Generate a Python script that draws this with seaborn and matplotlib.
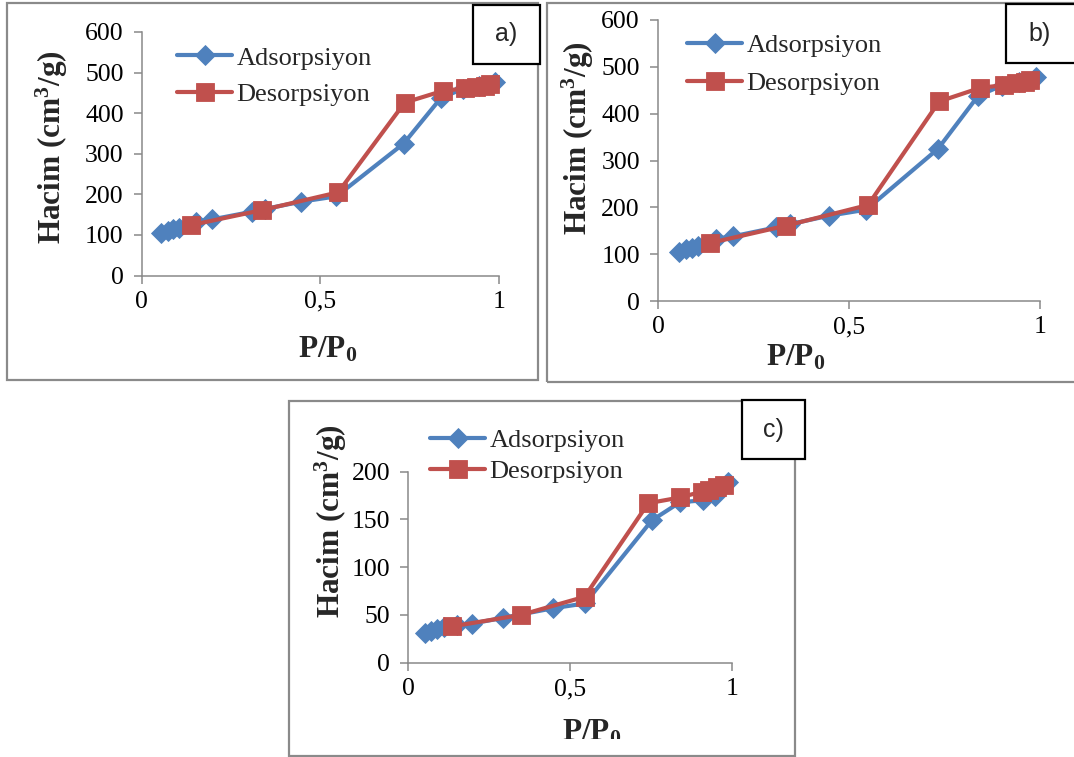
import matplotlib
matplotlib.use("Agg")
import matplotlib.pyplot as plt
import seaborn as sns
from matplotlib.patches import Rectangle
from matplotlib.transforms import Bbox, TransformedBbox

# ---- isotherm data (P/P0, adsorbed volume cm3/g) ----
# samples a) and b)
ads_ab_x = [0.055, 0.073, 0.089, 0.104, 0.152, 0.196, 0.308, 0.345, 0.447, 0.545, 0.733, 0.838, 0.900, 0.945, 0.990]
ads_ab_y = [105, 110, 114, 118, 133, 138, 157, 164, 182, 195, 325, 438, 460, 468, 478]
des_ab_x = [0.975, 0.960, 0.937, 0.905, 0.843, 0.736, 0.550, 0.336, 0.137]
des_ab_y = [471, 468, 465, 461, 455, 426, 205, 161, 124]

# sample c)
ads_c_x = [0.052, 0.070, 0.090, 0.110, 0.150, 0.197, 0.294, 0.447, 0.546, 0.753, 0.840, 0.910, 0.948, 0.990]
ads_c_y = [31, 33, 35, 37, 39, 41, 47, 57, 62, 149, 168, 170, 175, 189]
des_c_x = [0.975, 0.955, 0.930, 0.907, 0.840, 0.742, 0.545, 0.348, 0.135]
des_c_y = [186, 184, 181, 179, 173, 167, 69, 50, 38]

x_ticks = [0, 0.5, 1]
x_tick_labels = ["0", "0,5", "1"]
y_ticks_ab = [0, 100, 200, 300, 400, 500, 600]
y_ticks_c = [0, 50, 100, 150, 200]
series_names = ["Adsorpsiyon", "Desorpsiyon"]
panel_tags = ["a)", "b)", "c)"]

BLUE = "#4F81BD"
RED = "#C0504D"
GRAY = "#898989"

sns.set_style("ticks")
plt.rcParams["font.family"] = ["Liberation Serif", "DejaVu Serif"]
plt.rcParams["mathtext.fontset"] = "custom"
plt.rcParams["mathtext.rm"] = "Liberation Serif:bold"
plt.rcParams["mathtext.bf"] = "Liberation Serif:bold"
plt.rcParams["mathtext.it"] = "Liberation Serif:bold"

W, H = 1074, 757
fig = plt.figure(figsize=(W / 100, H / 100), dpi=100)
fig.patch.set_facecolor("white")


def fx(px):
    return px / W


def fy(py):
    return 1 - py / H


def axes_rect(x0, x1, ytop, ybot):
    return [fx(x0), fy(ybot), (x1 - x0) / W, (ybot - ytop) / H]


def draw_panel(ax, ax_x, ax_y, dx, dy, yticks, legend_anchor, spacing,
               ylab_pos, xlab_pos):
    sns.lineplot(x=ax_x, y=ax_y, ax=ax, sort=False, estimator=None,
                 color=BLUE, linewidth=3, marker="D", markersize=10,
                 markeredgecolor=BLUE, markeredgewidth=0.6,
                 label=series_names[0], clip_on=False, zorder=3)
    sns.lineplot(x=dx, y=dy, ax=ax, sort=False, estimator=None,
                 color=RED, linewidth=3, marker="s", markersize=13.5,
                 markeredgecolor=RED, markeredgewidth=0.6,
                 label=series_names[1], clip_on=False, zorder=4)
    ax.set_xlim(0, 1)
    ax.set_ylim(yticks[0], yticks[-1])
    ax.set_xticks(x_ticks)
    ax.set_xticklabels(x_tick_labels)
    ax.set_yticks(yticks)
    ax.set_yticklabels([str(v) for v in yticks])
    sns.despine(ax=ax)
    for side in ("left", "bottom"):
        ax.spines[side].set_color(GRAY)
        ax.spines[side].set_linewidth(1.1)
    ax.tick_params(axis="both", direction="out", length=6, width=1.1,
                   color=GRAY, labelsize=18.5, labelcolor="black")
    ax.tick_params(axis="x", pad=5)
    ax.tick_params(axis="y", pad=7)
    ax.set_facecolor("none")

    ax.set_ylabel(r"Hacim (cm$^{3}$/g)", fontsize=22.5, fontweight="bold")
    ax.yaxis.label.set_va("center")
    ax.yaxis.set_label_coords(*ylab_pos)
    ax.set_xlabel(r"$\mathbf{P/P_0}$", fontsize=22.5)
    ax.xaxis.label.set_va("center")
    ax.xaxis.set_label_coords(*xlab_pos)

    ax.legend(loc="center left", bbox_to_anchor=legend_anchor, frameon=False,
              fontsize=19, handlelength=2.1, handletextpad=0.15,
              labelspacing=spacing, borderpad=0, borderaxespad=0)


# chart-area frames around each panel
frames = [(7, 3, 538, 380), (547, 3, 1085, 382), (289, 401, 795, 756)]
for x0, y0, x1, y1 in frames:
    fig.patches.append(Rectangle((fx(x0), fy(y1)), (x1 - x0) / W, (y1 - y0) / H,
                                 transform=fig.transFigure, fill=False,
                                 edgecolor="#8a8a8a", linewidth=1.6, zorder=0))

ax_a = fig.add_axes(axes_rect(141.7, 499, 32, 275.5))
draw_panel(ax_a, ads_ab_x, ads_ab_y, des_ab_x, des_ab_y, y_ticks_ab,
           (0.099, 0.819), 0.49, (-0.251, 0.528), (0.519, -0.306))

ax_b = fig.add_axes(axes_rect(658, 1040, 20, 301))
draw_panel(ax_b, ads_ab_x, ads_ab_y, des_ab_x, des_ab_y, y_ticks_ab,
           (0.076, 0.842), 0.53, (-0.209, 0.58), (0.359, -0.203))

ax_c = fig.add_axes(axes_rect(408.3, 731.7, 471.7, 662.7))
draw_panel(ax_c, ads_c_x, ads_c_y, des_c_x, des_c_y, y_ticks_c,
           (0.067, 1.082), 0.27, (-0.239, 0.742), (0.568, -0.368))

# the lower chart area cuts its axis title off at the bottom
clip = TransformedBbox(Bbox([[0, fy(739)], [1, 1]]), fig.transFigure)
ax_c.xaxis.label.set_clip_box(clip)
ax_c.xaxis.label.set_clip_on(True)

# panel tags in boxed labels
tag_boxes = [(473, 5, 540, 64), (1006, 4, 1085, 63), (742, 400, 805, 459)]
for tag, (x0, y0, x1, y1) in zip(panel_tags, tag_boxes):
    fig.patches.append(Rectangle((fx(x0), fy(y1)), (x1 - x0) / W, (y1 - y0) / H,
                                 transform=fig.transFigure, facecolor="white",
                                 edgecolor="black", linewidth=1.6, zorder=5))
    cx = (x0 + x0 + 67) / 2 if x1 > W else (x0 + x1) / 2
    fig.text(fx(cx), fy((y0 + y1) / 2), tag, family=["Liberation Sans", "DejaVu Sans"],
             fontsize=18, ha="center", va="center", zorder=6)

fig.savefig("out.png", dpi=100, facecolor="white")
